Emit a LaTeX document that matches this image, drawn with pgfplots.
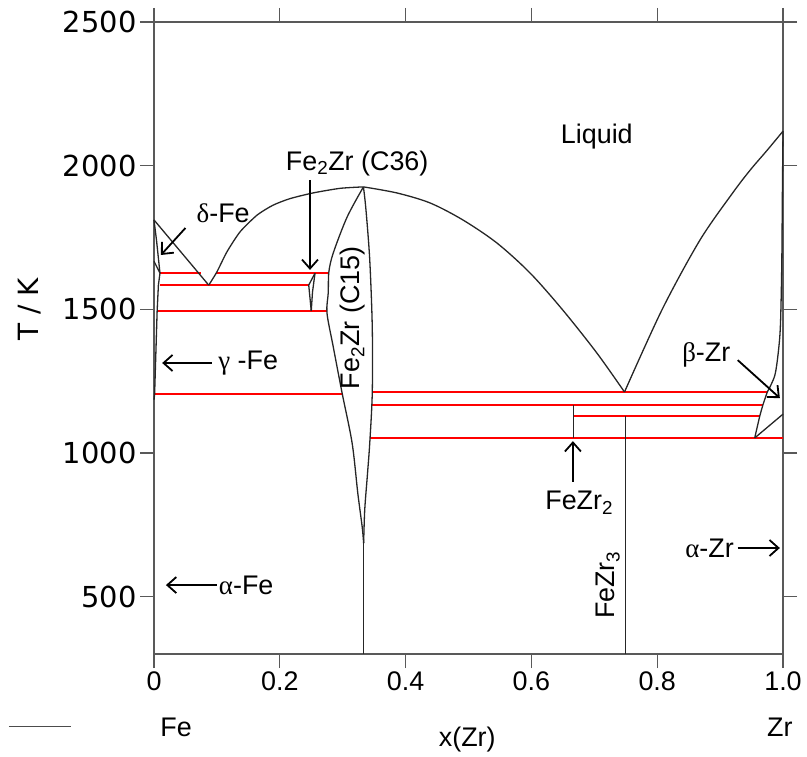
\documentclass[border=0pt]{standalone}
\usepackage{pgfplots}
\pgfplotsset{compat=1.18}
\usetikzlibrary{arrows.meta}
\usepackage{fontspec}
\setmainfont{Liberation Sans}
\newfontfamily\dejavu{DejaVu Sans}
\newfontfamily\grk{Liberation Serif}
\newcommand{\fs}{\fontsize{27}{31}\selectfont}

\begin{document}
\begin{tikzpicture}
\begin{axis}[name=ax, scale only axis, width=629bp, height=632bp,
  xmin=0, xmax=1, ymin=300, ymax=2500,
  xtick={0,0.2,0.4,0.6,0.8,1}, xticklabels={0,0.2,0.4,0.6,0.8,1.0},
  ytick={500,1000,1500,2000,2500}, yticklabels={500,1000,1500,2000,2500},
  tick align=outside, major tick length=14bp,
  axis line style={black!65, line width=1.3bp},
  every tick/.style={black!65, line width=1.3bp},
  xticklabel style={font=\fs},
  yticklabel style={font=\dejavu\fontsize{29}{32}\selectfont},
  ylabel={T / K},
  ylabel style={font=\dejavu\fontsize{28}{30}\selectfont, at={(axis description cs:-0.197,0.545)}, anchor=center},
  clip=false,
  legend style={at={(axis description cs:-0.232,-0.1155)}, anchor=west, draw=none, fill=none, inner sep=0pt},
  legend image code/.code={\draw[black!70, line width=1bp] (0,0)--(62bp,0);},
  ph/.style={black!85, line width=1.3bp, forget plot},
  rl/.style={red, line width=1.6bp, forget plot},
]
\addlegendimage{black!70}
\addlegendentry{}

% red invariant lines
\addplot[rl] coordinates {(0.0095,1626) (0.075,1626)};
\addplot[rl] coordinates {(0.099,1626) (0.278,1626)};
\addplot[rl] coordinates {(0.0095,1584) (0.246,1584)};
\addplot[rl] coordinates {(0.005,1494) (0.275,1494)};
\addplot[rl] coordinates {(0.001,1205) (0.299,1205)};
\addplot[rl] coordinates {(0.347,1212) (0.975,1212)};
\addplot[rl] coordinates {(0.347,1167) (0.968,1167)};
\addplot[rl] coordinates {(0.6667,1128) (0.963,1128)};
\addplot[rl] coordinates {(0.343,1052) (1.0,1052)};

% liquidus
\addplot[ph] coordinates {(0,1811) (0.087,1584)};
\addplot[ph, smooth, tension=0.4] coordinates {(0.087,1584) (0.100,1630) (0.116,1700) (0.137,1770) (0.164,1828) (0.189,1862) (0.216,1885) (0.253,1905) (0.296,1921) (0.333,1926)};
\addplot[ph, smooth, tension=0.5] coordinates {(0.333,1926) (0.386,1905) (0.439,1870) (0.491,1811) (0.545,1731) (0.598,1626) (0.650,1497) (0.704,1348) (0.748,1212)};
\addplot[ph, smooth, tension=0.5] coordinates {(0.748,1212) (0.808,1500) (0.868,1741) (0.920,1905) (0.948,1985) (0.975,2054) (1.0,2120)};

% Zr side
\addplot[ph, smooth] coordinates {(1.0,2120) (0.999,1900) (0.998,1650) (0.996,1450) (0.993,1360) (0.987,1270) (0.975,1212)};
\addplot[ph] coordinates {(0.975,1212) (0.968,1167) (0.963,1128) (0.955,1052)};
\addplot[ph] coordinates {(0.955,1052) (1.0,1135)};

% Fe2Zr C15
\addplot[ph, smooth] coordinates {(0.333,1926) (0.307,1821) (0.285,1696) (0.278,1630) (0.277,1557) (0.275,1487) (0.285,1369) (0.299,1209) (0.315,1034) (0.324,860) (0.331,742) (0.3333,686)};
\addplot[ph, smooth] coordinates {(0.333,1926) (0.337,1846) (0.343,1672) (0.347,1438) (0.347,1209) (0.343,1034) (0.339,916) (0.335,801) (0.3333,686)};
\addplot[ph] coordinates {(0.3333,686) (0.3333,300)};

% C36
\addplot[ph] coordinates {(0.256,1626) (0.246,1584) (0.250,1494)};
\addplot[ph] coordinates {(0.256,1626) (0.252,1560) (0.250,1494)};

% FeZr2, FeZr3
\addplot[ph] coordinates {(0.6667,1052) (0.6667,1167)};
\addplot[ph] coordinates {(0.75,300) (0.75,1128)};

% delta / gamma Fe
\addplot[ph] coordinates {(0,1811) (0.004,1740) (0.0095,1626)};
\addplot[ph] coordinates {(0,1667) (0.0095,1626)};
\addplot[ph] coordinates {(0.0095,1626) (0.007,1584) (0.005,1494) (0.003,1350) (0.001,1205) (0,1185)};

% labels
\node[font=\fs] at (axis cs:0.704,2100) {Liquid};
\node[font=\fs] at (axis cs:0.323,2009) {Fe\textsubscript{2}Zr (C36)};
\draw[-{Straight Barb[length=9bp,width=16bp]}, line width=1.8bp] (axis cs:0.248,1950) -- (axis cs:0.248,1637);
\node[font=\fs] at (axis cs:0.110,1835) {{\grk δ}-Fe};
\draw[-{Straight Barb[length=9bp,width=16bp]}, line width=1.8bp] (axis cs:0.050,1783) -- (axis cs:0.011,1689);
\draw[-{Straight Barb[length=9bp,width=16bp]}, line width=1.8bp] (axis cs:0.092,1313) -- (axis cs:0.013,1313);
\node[font=\fs, anchor=west, inner sep=0pt] at (axis cs:0.102,1313) {{\grk γ} -Fe};
\node[font=\fs, rotate=90] at (axis cs:0.316,1470) {Fe\textsubscript{2}Zr (C15)};
\node[font=\fs] at (axis cs:0.878,1341) {{\grk β}-Zr};
\draw[-{Straight Barb[length=9bp,width=16bp]}, line width=1.8bp] (axis cs:0.928,1323) -- (axis cs:0.995,1191);
\node[font=\fs] at (axis cs:0.676,826) {FeZr\textsubscript{2}};
\draw[-{Straight Barb[length=9bp,width=16bp]}, line width=1.8bp] (axis cs:0.666,899) -- (axis cs:0.666,1041);
\node[font=\fs, rotate=90] at (axis cs:0.722,540) {FeZr\textsubscript{3}};
\node[font=\fs, anchor=east, inner sep=0pt] at (axis cs:0.922,669) {{\grk α}-Zr};
\draw[-{Straight Barb[length=9bp,width=16bp]}, line width=1.8bp] (axis cs:0.928,669) -- (axis cs:0.995,669);
\draw[-{Straight Barb[length=9bp,width=16bp]}, line width=1.8bp] (axis cs:0.100,540) -- (axis cs:0.019,540);
\node[font=\fs, anchor=west, inner sep=0pt] at (axis cs:0.103,540) {{\grk α}-Fe};
\node[font=\fs] at (axis cs:0.035,46) {Fe};
\node[font=\fs] at (axis cs:0.995,46) {Zr};
\node[font=\fs] at (axis cs:0.498,1) {x(Zr)};
\end{axis}
\pgfresetboundingbox
\path ([shift={(-154bp,-103bp)}]ax.south west) rectangle ([shift={(24bp,22bp)}]ax.north east);
\end{tikzpicture}
\end{document}
